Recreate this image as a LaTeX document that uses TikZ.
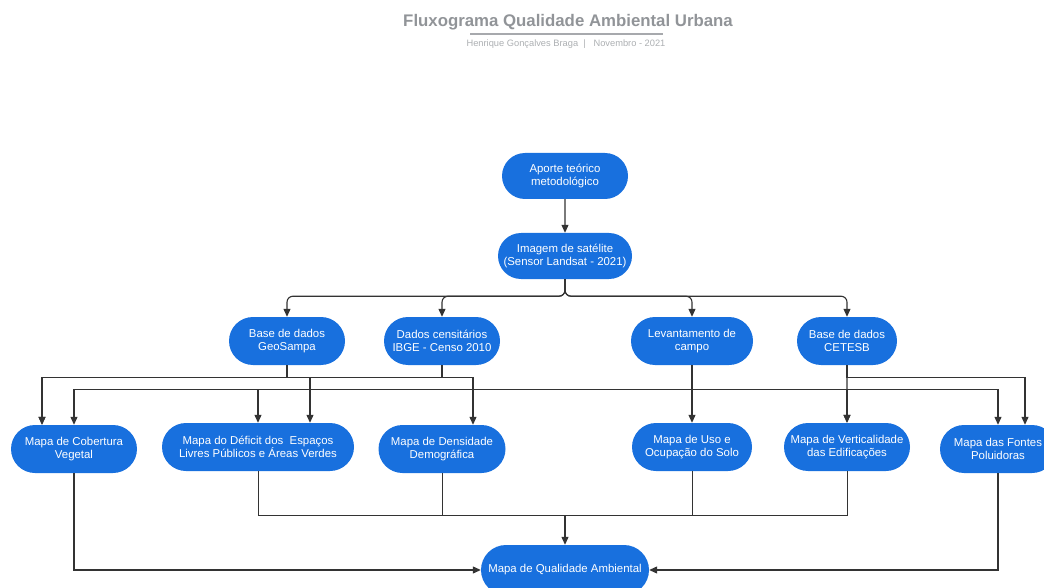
\documentclass[tikz,border=0pt]{standalone}
\usepackage{fontspec}
\setmainfont{Liberation Sans}
\usetikzlibrary{arrows.meta,shapes.misc}
\definecolor{azul}{RGB}{24,112,222}
\definecolor{traco}{RGB}{51,51,51}
\definecolor{cinza}{RGB}{145,148,152}
\tikzset{etapa/.style={draw=none,fill=azul,text=white,rounded rectangle,align=center,inner sep=1pt,minimum height=48pt,font=\fontsize{11.4}{13.4}\selectfont},
  seta/.style={draw=traco,line width=1.1pt,-{Triangle[length=8pt,width=7pt]}},
  liga/.style={draw=traco,line width=0.9pt}}

\begin{document}
\begin{tikzpicture}[x=1pt,y=-1pt]
\clip (0,0) rectangle (1044,588);
      \node[font=\fontsize{16.8}{18}\selectfont\bfseries,text=cinza] (tit) at (568,22) {Fluxograma Qualidade Ambiental Urbana};
      \draw[cinza!80,line width=1.2pt] (470,34) -- (663,34);
      \node[font=\fontsize{9.3}{11}\selectfont,text=cinza!75] (sub) at (566,44) {Henrique Gonçalves Braga~~|~~~Novembro - 2021};

      \node[etapa,minimum width=128pt,minimum height=46pt] (ap) at (565,176) {Aporte teórico\\metodológico};
      \node[etapa,minimum width=136pt,minimum height=46pt] (im) at (565,256) {Imagem de satélite\\(Sensor Landsat - 2021)};
      \node[etapa,minimum width=118pt] (geo) at (287,341) {Base de dados\\GeoSampa};
      \node[etapa,minimum width=118pt] (ibge) at (442,341) {Dados censitários\\IBGE - Censo 2010};
      \node[etapa,minimum width=124pt] (campo) at (692,341) {Levantamento de\\campo};
      \node[etapa,minimum width=102pt] (cet) at (847,341) {Base de dados\\CETESB};
      \node[etapa,minimum width=128pt] (cob) at (74,449) {Mapa de Cobertura\\Vegetal};
      \node[etapa,minimum width=194pt] (def) at (258,447) {Mapa do Déficit dos~ Espaços\\Livres Públicos e Áreas Verdes};
      \node[etapa,minimum width=129pt] (dens) at (442,449) {Mapa de Densidade\\Demográfica};
      \node[etapa,minimum width=122pt] (uso) at (692,447) {Mapa de Uso e\\Ocupação do Solo};
      \node[etapa,minimum width=128pt] (vert) at (847,447) {Mapa de Verticalidade\\das Edificações};
      \node[etapa,minimum width=118pt] (font) at (998,449) {Mapa das Fontes\\Poluidoras};
      \node[etapa,minimum width=170pt,minimum height=50pt] (qual) at (565,570) {Mapa de Qualidade Ambiental};

\draw[seta] (ap) -- (im);
\foreach \b in {geo,ibge,campo,cet}
  \draw[seta,rounded corners=6pt] (im.south) -- ++(0,17) -| (\b.north);
\foreach \a/\b/\dx in {geo/cob/-32,geo/def/52,ibge/cob/-32,ibge/dens/31}
  \draw[seta] (\a.south) -- ++(0,12) -| ([xshift=\dx pt]\b.north);
\foreach \b in {cob,def,uso,vert,font}
  \draw[seta] (campo.south) -- ++(0,24) -| (\b.north);
\draw[seta] (cet.south) -- ++(0,12) -| ([xshift=27pt]font.north);
\draw[seta] (cet) -- (vert);

\coordinate (junta) at (565,515);
\foreach \a in {def,dens,uso,vert}
  \draw[liga] (\a.south) |- (junta);
\draw[seta] (junta) -- (qual);
\draw[seta] (cob) |- (qual);
\draw[seta] (font) |- (qual);
    \end{tikzpicture}
\end{document}
